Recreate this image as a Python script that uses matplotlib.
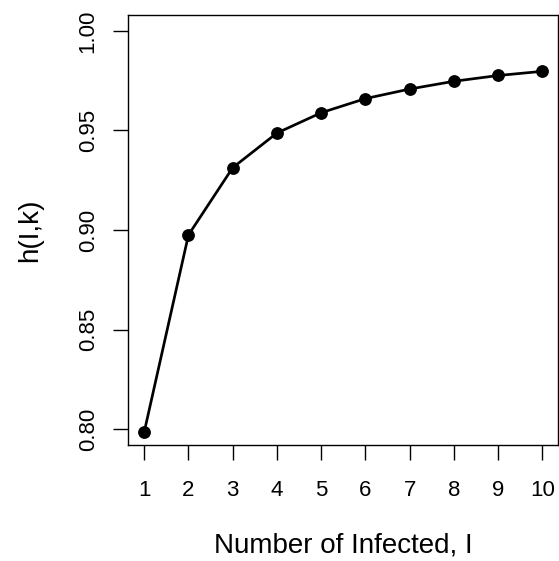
import matplotlib
matplotlib.use("Agg")
import matplotlib.pyplot as plt

# h(I,k) against number of infected
infected = [1, 2, 3, 4, 5, 6, 7, 8, 9, 10]
h_values = [0.7985, 0.8975, 0.9313, 0.9487, 0.9589, 0.9660, 0.9708, 0.9747, 0.9776, 0.9797]
y_ticks = [0.80, 0.85, 0.90, 0.95, 1.00]
y_tick_labels = ["0.80", "0.85", "0.90", "0.95", "1.00"]

plt.rcParams["font.family"] = ["Liberation Sans", "DejaVu Sans"]

fig = plt.figure(figsize=(5.59, 5.61), dpi=100)
ax = fig.add_axes([0.2295, 0.2068, 0.7693, 0.7665])

ax.plot(infected, h_values, color="black", linewidth=1.95,
        marker="o", markersize=8.2, solid_joinstyle="round")

# R-style 4% padding around the ranges
ax.set_xlim(1 - 0.36, 10 + 0.36)
ax.set_ylim(0.8 - 0.008, 1.0 + 0.008)

ax.set_xticks(infected)
ax.set_xticklabels([str(i) for i in infected])
ax.set_yticks(y_ticks)
ax.set_yticklabels(y_tick_labels)

for s in ax.spines.values():
    s.set_linewidth(1.0)

ax.tick_params(axis="both", direction="out", length=10.8, width=1.0,
               labelsize=16, colors="black")
ax.tick_params(axis="x", pad=14.5)
ax.tick_params(axis="y", pad=10.5, labelrotation=90)
for lab in ax.get_yticklabels():
    lab.set_va("center")

fig.text(343.3 / 559, 1 - 545 / 561, "Number of Infected, I",
         ha="center", va="center", fontsize=20)
fig.text(30 / 559, 1 - 230 / 561, "h(I,k)", rotation=90,
         ha="center", va="center", fontsize=20)

fig.savefig("out.png", dpi=100)
